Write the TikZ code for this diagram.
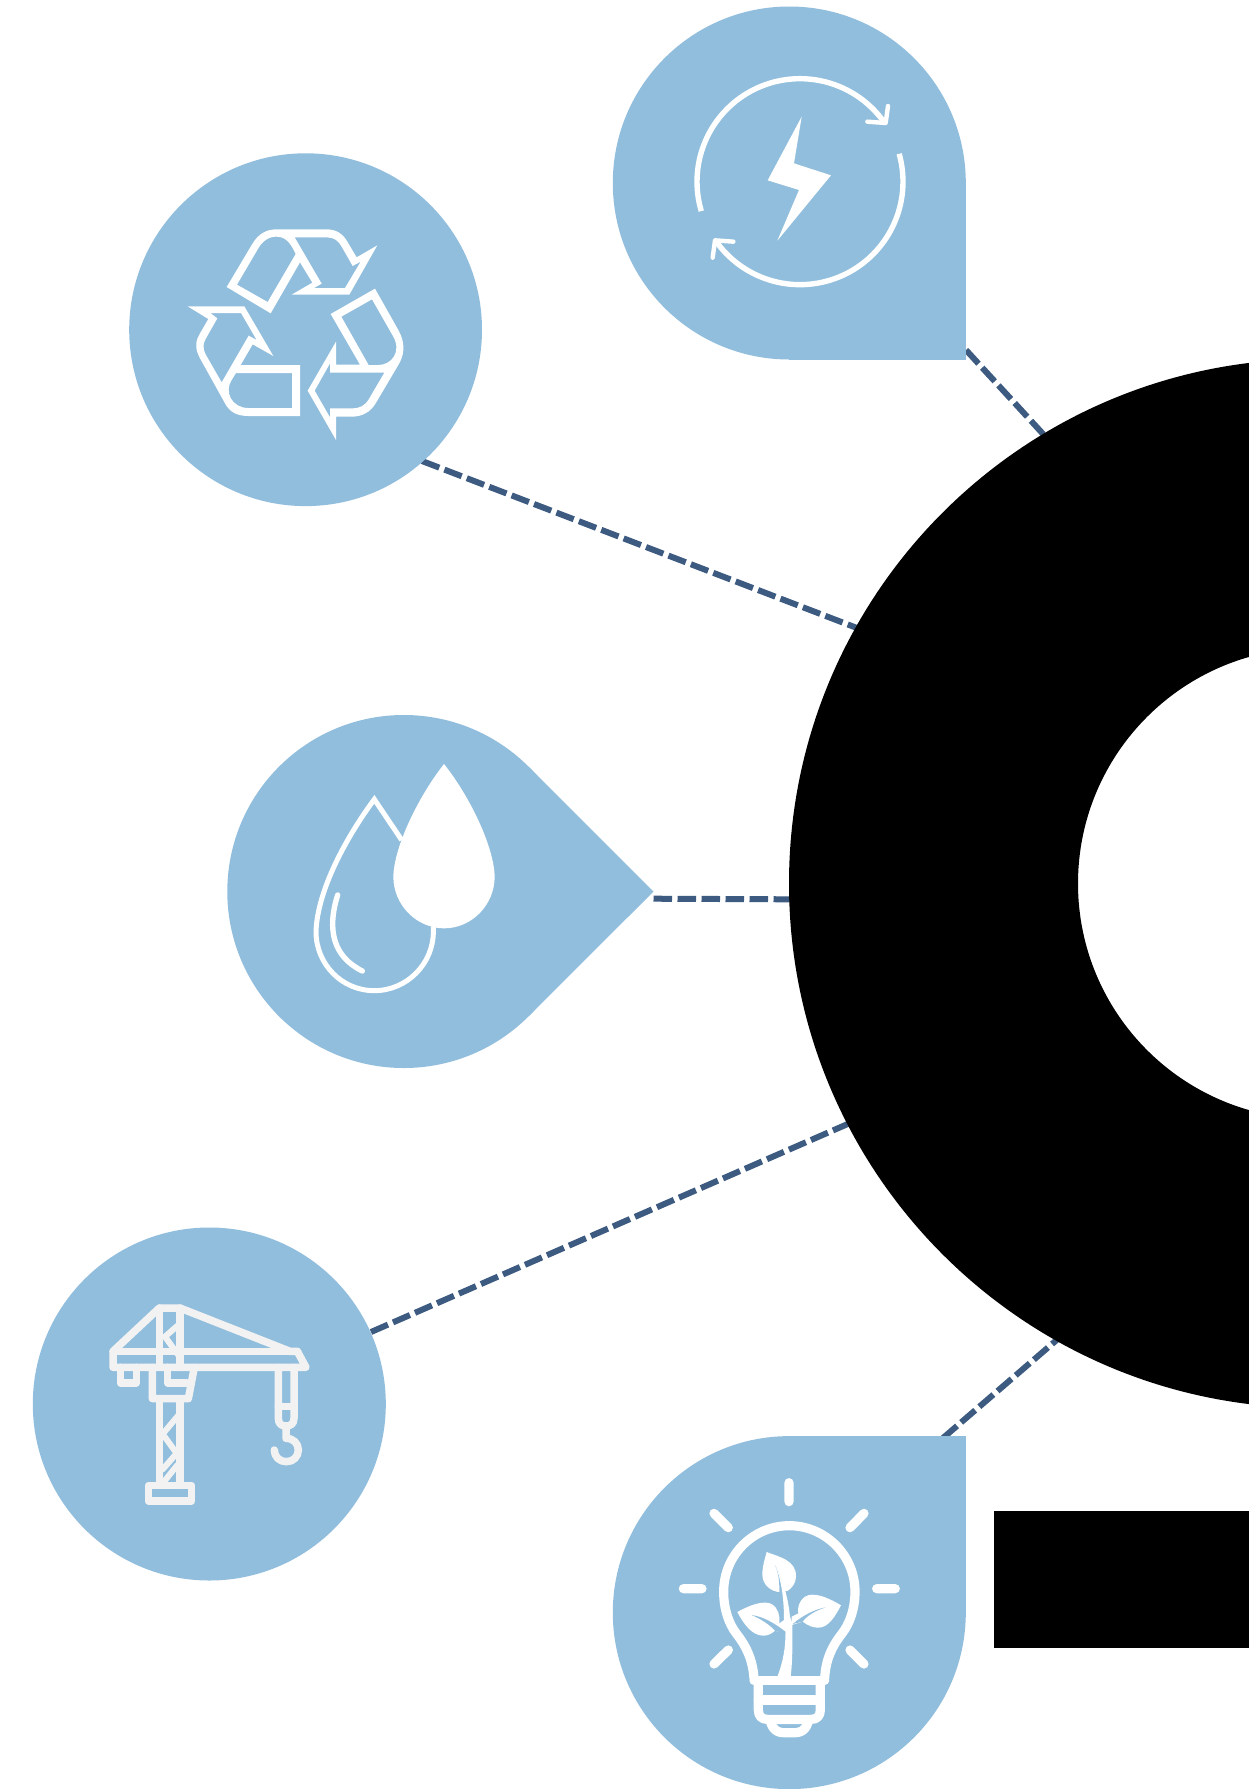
\documentclass[tikz,border=0pt]{standalone}
\definecolor{hubblue}{HTML}{91BEDD}
\definecolor{linkblue}{HTML}{3D5A80}
\definecolor{cranegray}{HTML}{F2F2F2}
\tikzset{
 hub/.style={fill=hubblue,draw=none},
 link/.style={draw=linkblue,line width=6pt,dash pattern=on 18.5pt off 5.5pt},
 solidblack/.style={fill=black,draw=none},
 iconfill/.style={fill=white,draw=none},
 iconhole/.style={fill=hubblue,draw=none},
 cranestroke/.style={draw=cranegray,line width=7.5pt,line join=round,line cap=round},
 thinstroke/.style={draw=white,line width=5.4pt},
 bulbstroke/.style={draw=white,line width=9.2pt,line join=round,line cap=round},
}
\begin{document}
\begin{tikzpicture}[x=1pt,y=-1pt]
\useasboundingbox (0,0) rectangle (1249,1789);
\fill[white] (0,0) rectangle (1249,1789);
% connector ends
\coordinate (energyEnd) at (966,350);
\coordinate (energyHub) at (1044,435);
\coordinate (recycleEnd) at (422,461);
\coordinate (recycleHub) at (857,628);
\coordinate (waterEnd) at (653.5,898.7);
\coordinate (waterHub) at (790,899.3);
\coordinate (craneEnd) at (371,1332);
\coordinate (craneHub) at (850,1123);
\coordinate (bulbEnd) at (943,1438);
\coordinate (bulbHub) at (1059,1338);
\draw[link] (energyEnd) -- (energyHub);
\draw[link] (recycleEnd) -- (recycleHub);
\draw[link] (waterEnd) -- (waterHub);
\draw[link] (craneEnd) -- (craneHub);
\draw[link] (bulbEnd) -- (bulbHub);
% black hub
\begin{scope}
\clip (0,0) rectangle (1249,1789);
\path[solidblack,even odd rule] (1313.5,883.5) circle[radius=524.5] (1313.5,883.5) circle[radius=235.5];
\fill[black] (993.5,1511) rectangle (1249,1648);
\end{scope}
% blue shapes
\path[hub] (305.6,329.7) circle[radius=176.4];
\path[hub] (789.3,183) circle[radius=176.5];
\path[hub] (789.3,183) rectangle (966,359.5);
\path[hub] (403.8,891.5) circle[radius=176.5];
\path[hub] (528.6,766.7) -- (653.5,891.5) -- (528.6,1016.3) -- (403.8,891.5) -- cycle;
\path[hub] (209.3,1404) circle[radius=176.5];
\path[hub] (789.3,1612.6) circle[radius=176.5];
\path[hub] (789.3,1436) rectangle (966,1612.6);
% recycle icon
\begin{scope}[shift={(120,150)},x=0.33333pt,y=-0.33333pt]
\path[iconfill,even odd rule] (320,411) -- (395,285) .. controls (415,250) and (440,238) .. (470,238) -- (620,238) .. controls (650,238) and (670,252) .. (685,280) -- (710,322) -- (772,286) -- (688,434) -- (515,434) -- (577,398) -- (540,337) -- (452,490) -- cycle
 (351,404) -- (412,300) .. controls (425,275) and (445,260) .. (468,260) .. controls (495,260) and (510,275) .. (527,312) -- (443,456) -- cycle
 (524,262) -- (620,262) .. controls (642,262) and (655,272) .. (665,290) -- (698,348) -- (722,335) -- (675,414) -- (582,414) -- (605,401) -- cycle;
\path[iconfill,even odd rule] (203,469) -- (373,469) -- (460,618) -- (398,583) -- (362,645) -- (540,645) -- (540,798) -- (385,798) .. controls (350,798) and (328,785) .. (315,760) -- (240,625) .. controls (222,592) and (228,570) .. (240,550) -- (265,507) -- cycle
 (271,489) -- (363,489) -- (410,570) -- (386,557) -- (305,697) -- (258,615) .. controls (248,595) and (248,582) .. (258,565) -- (292,505) -- cycle
 (348,669) -- (516,669) -- (516,774) -- (385,774) .. controls (335,774) and (312,725) .. (335,690) -- cycle;
\path[iconfill,even odd rule] (632,492) -- (765,416) -- (835,540) .. controls (860,585) and (850,620) .. (835,645) -- (770,755) .. controls (752,788) and (725,800) .. (695,800) -- (648,800) -- (648,870) -- (563,722) -- (648,575) -- (648,644) -- (720,644) -- cycle
 (664,500) -- (756,448) -- (820,560) .. controls (845,605) and (815,645) .. (775,645) -- (746,645) -- cycle
 (630,640) -- (630,668) -- (793,668) -- (748,745) .. controls (735,768) and (720,775) .. (695,775) -- (630,775) -- (630,802) -- (584,722) -- cycle;
\end{scope}
% energy icon
\begin{scope}[shift={(660,50)},x=0.33333pt,y=-0.33333pt]
\draw[thinstroke] plot[domain=196.6:34.8,samples=70] ({420+309*cos(\x)},{395-309*sin(\x)});
\draw[thinstroke] plot[domain=15.7:-145,samples=70] ({420+309*cos(\x)},{395-309*sin(\x)});
\draw[thinstroke,line cap=round,line join=round,line width=4.4pt] (622,215) -- (677,219) -- (684,168);
\draw[thinstroke,line cap=round,line join=round,line width=4.4pt] (220,575) -- (165,571) -- (158,623);
\path[iconfill] (425,200) -- (402,340) -- (513,376) -- (352,572) -- (417,420) -- (323,391) -- cycle;
\end{scope}
% water icon
\begin{scope}[shift={(290,740)},x=0.33333pt,y=-0.33333pt,line join=miter]
\draw[thinstroke,line width=5pt] (430,560) -- (430,575) .. controls (430,672) and (350,752) .. (253,752) .. controls (155,752) and (78,672) .. (78,575) .. controls (82,450) and (170,290) .. (253,178) -- (335,300);
\draw[thinstroke,line cap=round] (143,465) .. controls (110,570) and (130,650) .. (217,693);
\path[iconfill] (462,72) .. controls (540,170) and (612,320) .. (614,410) .. controls (614,495) and (545,565) .. (462,565) .. controls (380,565) and (310,495) .. (310,410) .. controls (312,320) and (385,170) .. (462,72) -- cycle;
\end{scope}
% crane icon
\begin{scope}[shift={(90,1280)},x=0.33333pt,y=-0.33333pt]
\draw[cranestroke] (69,214) -- (208,84) -- (270,84) -- (600,214) -- (622,214) -- (648,262) -- (69,262) -- cycle;
\draw[cranestroke] (69,214) -- (622,214);
\draw[cranestroke] (209,84) -- (209,262) (270,84) -- (270,262);
\draw[cranestroke,line width=6pt] (265,135) -- (225,170) -- (265,225);
\draw[cranestroke] (91,262) -- (91,309) -- (139,309) -- (139,262);
\draw[cranestroke] (187,262) -- (187,356) -- (295,356) -- (313,262);
\draw[cranestroke] (233,262) -- (233,309) -- (290,309);
\draw[cranestroke] (209,356) -- (209,616) (270,356) -- (270,616);
\draw[cranestroke,line width=6pt] (266,405) -- (218,462) -- (260,520) -- (218,568);
\draw[cranestroke,line width=6pt] (262,555) -- (222,605);
\draw[cranestroke] (175,616) rectangle (305,663);
\draw[cranestroke] (565,262) -- (565,415) .. controls (565,432) and (575,438) .. (588,438) .. controls (601,438) and (612,432) .. (612,415) -- (612,262);
\draw[cranestroke] (565,380) -- (612,380);
\draw[cranestroke] (588,438) -- (588,475) .. controls (610,475) and (625,490) .. (625,510) .. controls (625,530) and (610,545) .. (589,545) .. controls (568,545) and (553,530) .. (553,510);
\end{scope}
% bulb icon
\begin{scope}[shift={(660,1460)},x=0.33333pt,y=-0.33333pt]
\draw[bulbstroke] (282,655) .. controls (278,600) and (260,560) .. (230,522) .. controls (205,490) and (191,445) .. (191,395) .. controls (191,285) and (280,197) .. (388,197) .. controls (495,197) and (585,285) .. (585,395) .. controls (585,445) and (570,490) .. (545,522) .. controls (515,560) and (497,600) .. (494,655);
\draw[bulbstroke] (282,662) -- (494,662);
\draw[bulbstroke] (295,662) -- (295,750) .. controls (295,768) and (305,778) .. (322,778) -- (454,778) .. controls (471,778) and (481,768) .. (481,750) -- (481,662);
\draw[bulbstroke] (295,720) -- (481,720);
\path[iconfill,even odd rule] (317,785) .. controls (325,818) and (345,832) .. (372,832) -- (404,832) .. controls (431,832) and (451,818) .. (459,785) -- cycle
 (348,792) -- (428,792) .. controls (422,800) and (416,804) .. (408,804) -- (368,804) .. controls (360,804) and (354,800) .. (348,792) -- cycle;
\draw[bulbstroke] (387,68) -- (387,125) (70,386) -- (126,386) (650,386) -- (706,386)
 (162,160) -- (205,203) (612,160) -- (570,203) (205,570) -- (162,612) (570,570) -- (612,612);
% plant
\path[iconfill] (320,276) .. controls (355,290) and (410,300) .. (408,350) .. controls (408,370) and (395,385) .. (382,393) -- (358,396) .. controls (335,395) and (305,375) .. (307,340) .. controls (308,315) and (315,295) .. (320,276) -- cycle;
\path[iconhole] (345,315) .. controls (358,345) and (358,370) .. (358,396) -- (372,396) .. controls (368,365) and (358,340) .. (345,315) -- cycle;
\path[iconfill] (345,315) .. controls (372,365) and (385,420) .. (390,470) -- (397,490) .. controls (398,560) and (397,610) .. (392,650) -- (352,650) .. controls (368,610) and (378,560) .. (376,515) -- (358,490) -- (372,480) .. controls (372,420) and (365,360) .. (345,315) -- cycle;
\path[iconfill] (232,456) .. controls (270,435) and (310,420) .. (335,432) .. controls (355,445) and (360,465) .. (358,490) -- (376,500) -- (376,520) -- (345,512) .. controls (335,522) and (322,527) .. (310,527) .. controls (275,527) and (250,490) .. (232,456) -- cycle;
\path[iconhole] (275,465) .. controls (305,478) and (330,495) .. (345,512) -- (376,522) -- (376,515) .. controls (345,490) and (310,470) .. (275,465) -- cycle;
\path[iconfill] (543,436) .. controls (500,410) and (460,395) .. (435,410) .. controls (415,425) and (412,445) .. (415,460) -- (395,470) -- (395,495) -- (428,485) .. controls (445,498) and (460,503) .. (475,503) .. controls (505,503) and (525,470) .. (543,436) -- cycle;
\path[iconhole] (497,442) .. controls (465,452) and (440,468) .. (428,485) -- (398,492) .. controls (430,465) and (465,448) .. (497,442) -- cycle;
\end{scope}
\end{tikzpicture}
\end{document}
